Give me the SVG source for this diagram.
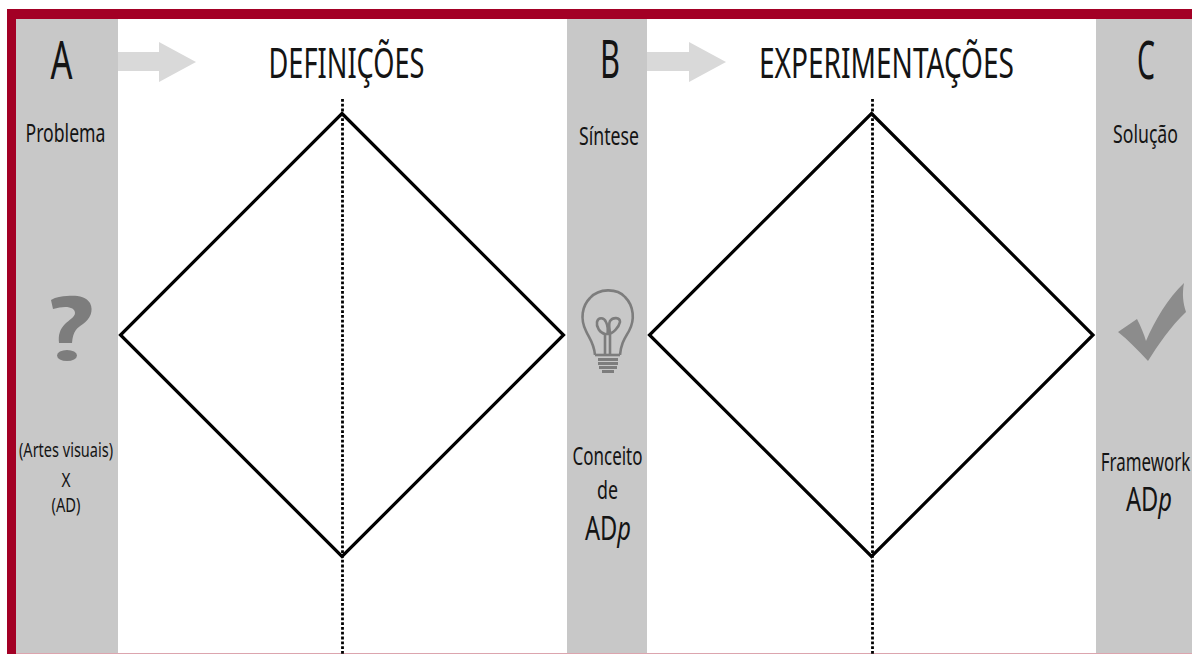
<svg xmlns="http://www.w3.org/2000/svg" width="1192" height="654" viewBox="0 0 1192 654">
<style>
text{font-family:"Noto Sans","Liberation Sans",sans-serif;fill:#141414;text-anchor:middle}
.band{fill:#c8c8c8}
.arrow{fill:#d9d9d9}
.diamond{fill:#fff;stroke:#000;stroke-width:3.2;stroke-linejoin:miter}
.axis{stroke:#000;stroke-width:2.8;stroke-dasharray:2.8 2;fill:none}
.icon{fill:#7d7d7d}
.check{fill:#8c8c8c}
.big{font-size:52px}
.title{font-size:42px}
.lab{font-size:25px}
.sm{font-size:20px}
.em{font-size:32px}
</style>
<rect width="1192" height="654" fill="#fff"/>
<g id="frame">
<rect x="7" y="9" width="1185" height="645" fill="#a30025"/>
<rect x="16" y="19" width="1176" height="634" fill="#fff"/>
<rect x="16" y="653" width="1176" height="1" fill="#dca5ae"/>
</g>
<g id="band-a">
<rect class="band" x="16" y="19" width="102" height="634"/>
<path class="arrow" d="M118 52H159V42L196 62L159 82V71H118Z"/>
<text class="big" x="61.500" y="79" textLength="22" lengthAdjust="spacingAndGlyphs">A</text>
<text class="lab" x="65.500" y="142" textLength="80" lengthAdjust="spacingAndGlyphs">Problema</text>
<path class="icon" d="M51 300C56 297 62 296 67 296C75 295 86 296 90 303C94 311 90 319 83 324C77 328 73 331 72 343H59C58 335 60 329 65 324C69 320 75 317 75 313C75 307 66 305 53 309Z"/>
<ellipse class="icon" cx="67" cy="355.500" rx="10" ry="5.500"/>
<text class="sm" x="66" y="457" textLength="94" lengthAdjust="spacingAndGlyphs">(Artes visuais)</text>
<text class="sm" x="66" y="487" textLength="9" lengthAdjust="spacingAndGlyphs">X</text>
<text class="sm" x="66" y="512" textLength="29" lengthAdjust="spacingAndGlyphs">(AD)</text>
</g>
<g id="definicoes">
<text class="title" x="346.500" y="78" textLength="156" lengthAdjust="spacingAndGlyphs">DEFINIÇÕES</text>
<polygon class="diamond" points="342,113.500 563.500,335 342,556.500 120.500,335"/>
<line class="axis" x1="342.500" y1="99" x2="342.500" y2="654"/>
</g>
<g id="band-b">
<rect class="band" x="567" y="19" width="80" height="634"/>
<path class="arrow" d="M647 52H689V42L726 62L689 82V71H647Z"/>
<text class="big" x="610" y="78" textLength="20" lengthAdjust="spacingAndGlyphs">B</text>
<text class="lab" x="609" y="145" textLength="60" lengthAdjust="spacingAndGlyphs">Síntese</text>
<g fill="none" stroke="#7d7d7d" stroke-width="2.6">
<path d="M595 355C594 343 589 338 586 331C580 319 582 306 590 298C599 288 617 288 625 297C634 306 635 320 629 331C625 338 621 343 620 355"/>
<path d="M595 355H620"/>
<path d="M605 355V334C600 333 596 327 597 322C598 317 604 317 606 322C608 326 608 330 607.500 334C613 334 619 327 620 322C620 317 613 317 610 321C608 325 610 330 610 334V355"/>
<path d="M598 359.500H618M598 363.500H618M599 367.500H617" stroke-width="3"/>
<path d="M602 371.500H614" stroke-width="3"/>
</g>
<text class="lab" x="607.500" y="465" textLength="70" lengthAdjust="spacingAndGlyphs">Conceito</text>
<text class="lab" x="607.500" y="499" textLength="21" lengthAdjust="spacingAndGlyphs">de</text>
<text class="em" transform="translate(608 540) scale(.74 1)">AD<tspan font-style="italic">p</tspan></text>
</g>
<g id="experimentacoes">
<text class="title" x="886.500" y="78" textLength="255" lengthAdjust="spacingAndGlyphs">EXPERIMENTAÇÕES</text>
<polygon class="diamond" points="871.500,113.500 1093,335 871.500,556.500 649.500,335"/>
<line class="axis" x1="872.500" y1="99" x2="872.500" y2="654"/>
</g>
<g id="band-c">
<rect class="band" x="1096" y="19" width="96" height="634"/>
<text class="big" x="1146" y="79" textLength="18" lengthAdjust="spacingAndGlyphs">C</text>
<text class="lab" transform="translate(1145.500 143) scale(.707 1)">Solução</text>
<path class="check" d="M1118 332L1137 319C1141 327 1144 334 1146 341C1155 320 1168 298 1184 283C1182 294 1183 303 1186 312C1171 326 1158 345 1148 361C1138 350 1128 340 1118 332Z"/>
<text class="lab" transform="translate(1145.500 471) scale(.677 1)">Framework</text>
<text class="em" transform="translate(1149 511) scale(.74 1)">AD<tspan font-style="italic">p</tspan></text>
</g>
</svg>
